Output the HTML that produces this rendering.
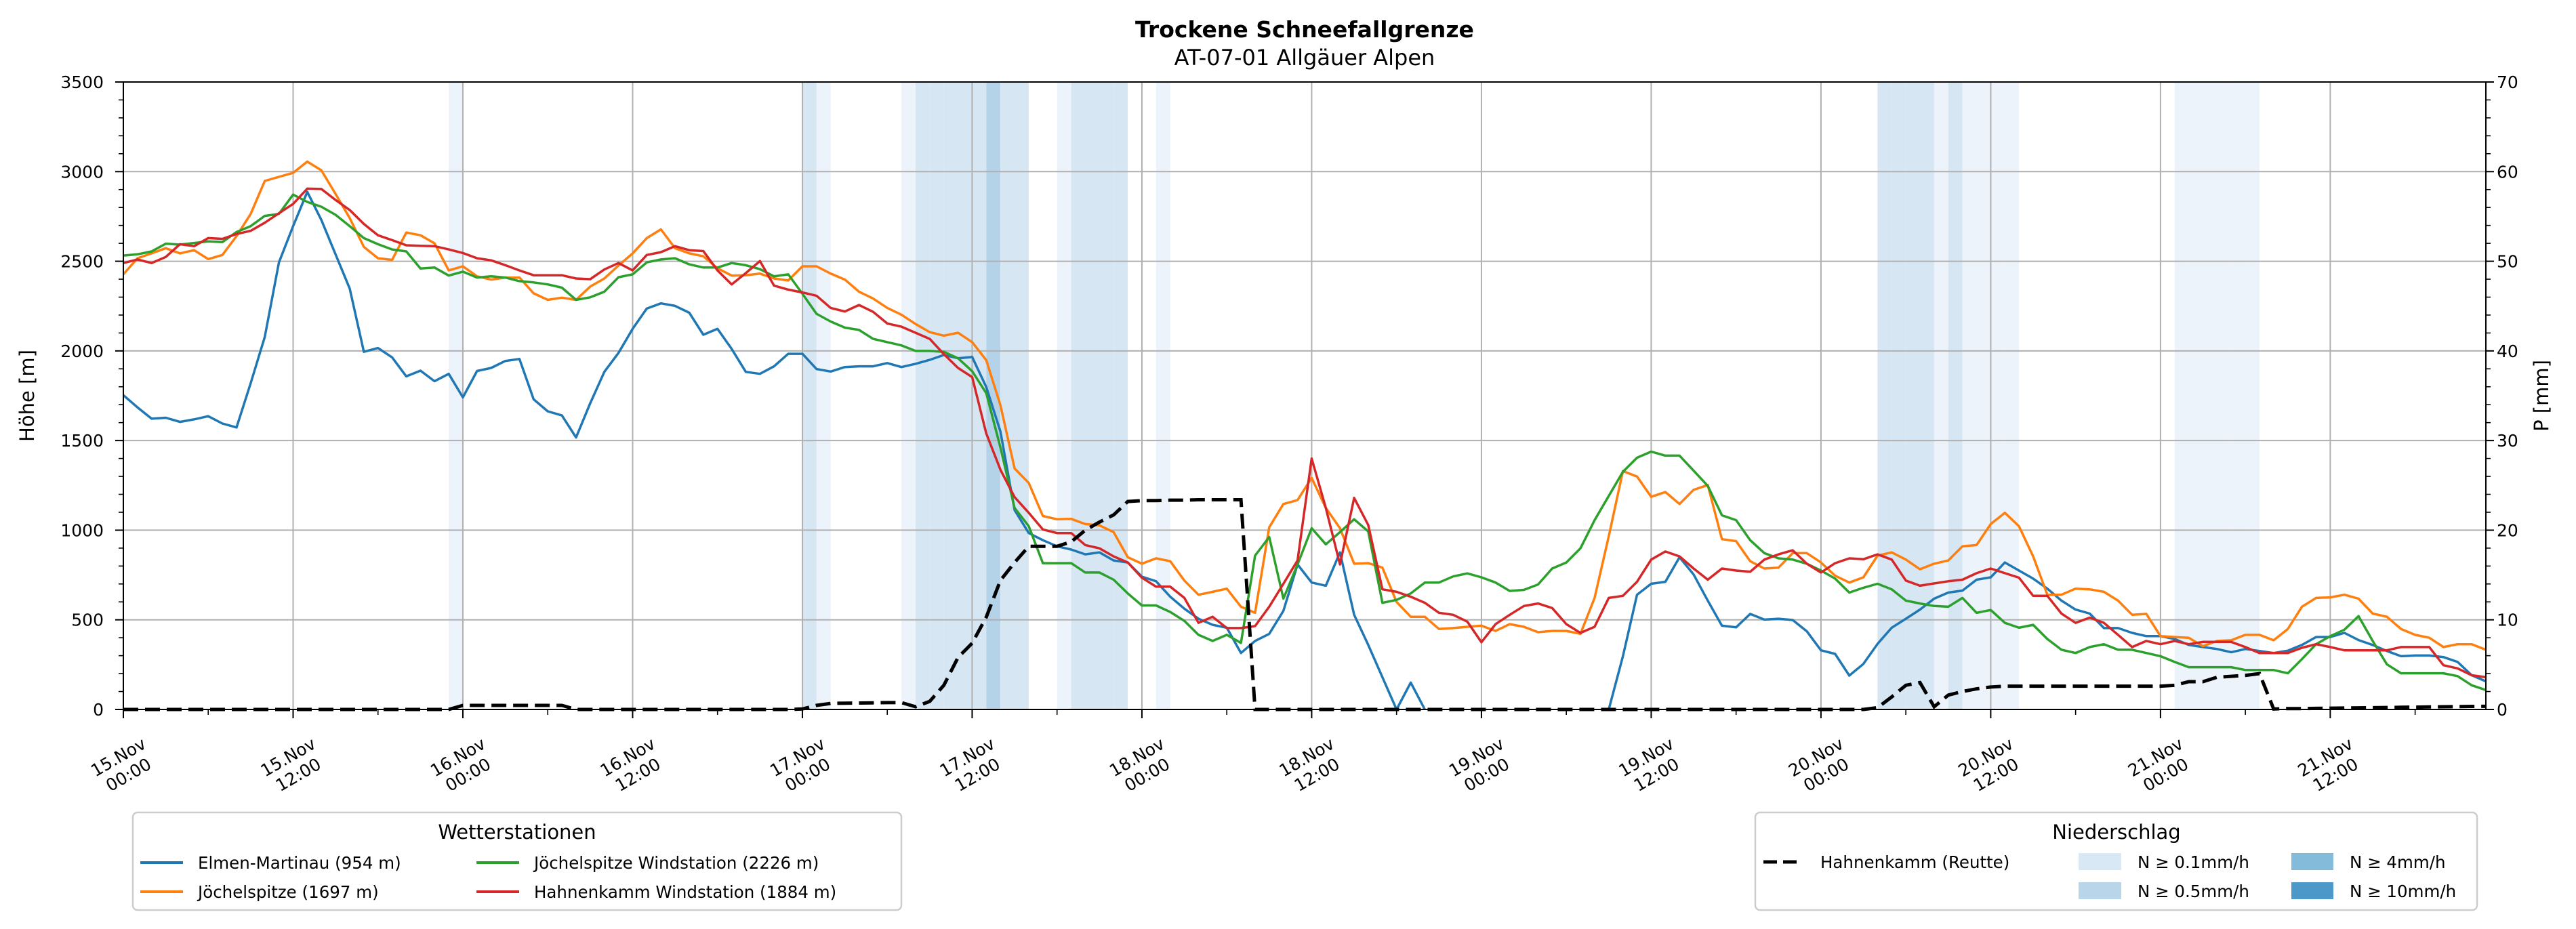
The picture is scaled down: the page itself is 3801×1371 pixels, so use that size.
<!DOCTYPE html>
<html><head><meta charset="utf-8"><style>
html,body{margin:0;padding:0;background:#fff;}
svg{display:block;font-family:"DejaVu Sans","Liberation Sans",sans-serif;}
</style></head><body>
<svg id="chart" xmlns="http://www.w3.org/2000/svg" width="3801" height="1371" viewBox="0 0 3801 1371">
<rect x="0" y="0" width="3801" height="1371" fill="#fff"/>
<text x="1925" y="55" text-anchor="middle" font-size="33" font-weight="bold">Trockene Schneefallgrenze</text>
<text x="1925" y="96" text-anchor="middle" font-size="32">AT-07-01 Allgäuer Alpen</text>
<g id="bands"></g>
<g id="grid"></g>
<defs><clipPath id="pc"><rect x="182" y="121" width="3486" height="929"/></clipPath></defs>
<g id="series" clip-path="url(#pc)"></g>
<rect x="182" y="121" width="3486" height="926" fill="none" stroke="#000" stroke-width="2"/>
<g id="axes"></g>
<text transform="translate(50,584) rotate(-90)" text-anchor="middle" font-size="29">Höhe [m]</text>
<text transform="translate(3760,584) rotate(-90)" text-anchor="middle" font-size="29">P [mm]</text>

<g>
<rect x="196" y="1199" width="1134" height="144" rx="7" fill="#fff" stroke="#cccccc" stroke-width="2.5"/>
<text x="763" y="1238" text-anchor="middle" font-size="29">Wetterstationen</text>
<line x1="207" y1="1273" x2="270" y2="1273" stroke="#1f77b4" stroke-width="4"/>
<text x="292" y="1282" font-size="24.5">Elmen-Martinau (954 m)</text>
<line x1="207" y1="1316" x2="270" y2="1316" stroke="#ff7f0e" stroke-width="4"/>
<text x="292" y="1325" font-size="24.5">Jöchelspitze (1697 m)</text>
<line x1="703" y1="1273" x2="766" y2="1273" stroke="#2ca02c" stroke-width="4"/>
<text x="788" y="1282" font-size="24.5">Jöchelspitze Windstation (2226 m)</text>
<line x1="703" y1="1316" x2="766" y2="1316" stroke="#d62728" stroke-width="4"/>
<text x="788" y="1325" font-size="24.5">Hahnenkamm Windstation (1884 m)</text>
</g>

<g>
<rect x="2590" y="1199" width="1065" height="144" rx="7" fill="#fff" stroke="#cccccc" stroke-width="2.5"/>
<text x="3123" y="1238" text-anchor="middle" font-size="29">Niederschlag</text>
<line x1="2602" y1="1272" x2="2658" y2="1272" stroke="#000" stroke-width="5" stroke-dasharray="20,9"/>
<text x="2686" y="1281" font-size="24.5">Hahnenkamm (Reutte)</text>
<rect x="3067" y="1259" width="63" height="25" fill="#d9e8f5"/>
<text x="3154" y="1281" font-size="24.5">N ≥ 0.1mm/h</text>
<rect x="3067" y="1302" width="63" height="25" fill="#b8d5ea"/>
<text x="3154" y="1324" font-size="24.5">N ≥ 0.5mm/h</text>
<rect x="3381" y="1259" width="62" height="25" fill="#84bbdb"/>
<text x="3467" y="1281" font-size="24.5">N ≥ 4mm/h</text>
<rect x="3381" y="1302" width="62" height="25" fill="#4b98c9"/>
<text x="3467" y="1324" font-size="24.5">N ≥ 10mm/h</text>
</g>
</svg>
<script>
const elmen = [1753,1685,1622,1627,1604,1618,1636,1595,1573,1820,2078,2494,2696,2887,2730,2539,2348,1995,2016,1964,1858,1890,1831,1872,1741,1888,1905,1944,1955,1730,1663,1640,1517,1708,1883,1989,2123,2236,2265,2251,2213,2090,2123,2011,1883,1872,1914,1984,1984,1899,1885,1910,1914,1914,1932,1910,1928,1950,1977,1959,1966,1798,1550,1112,984,944,910,892,865,876,831,820,741,715,629,562,506,472,456,315,382,422,550,809,708,690,876,528,360,180,0,150,0,null,null,null,null,null,null,null,null,null,null,null,null,0,297,640,701,712,849,753,607,467,458,533,501,506,499,436,330,310,189,254,366,456,506,557,618,652,663,724,737,820,775,730,674,607,557,535,454,454,427,409,409,393,360,348,337,319,337,326,315,328,360,404,404,427,387,360,326,297,301,301,292,265,191,157];
const joechel = [2427,2517,2544,2573,2544,2562,2512,2535,2640,2764,2948,2971,2993,3056,3007,2876,2741,2580,2517,2508,2660,2645,2600,2449,2472,2416,2398,2409,2409,2321,2285,2297,2285,2359,2404,2476,2544,2629,2678,2573,2544,2528,2461,2420,2422,2431,2404,2393,2472,2472,2431,2398,2330,2292,2240,2202,2150,2105,2085,2101,2049,1948,1697,1344,1263,1079,1061,1063,1034,1027,989,849,813,843,827,719,640,656,674,573,539,1016,1146,1168,1292,1124,1011,813,816,791,600,517,517,449,454,461,467,438,476,461,431,438,438,422,622,966,1330,1299,1186,1213,1146,1225,1252,950,939,827,786,791,872,872,820,746,708,737,858,876,836,782,813,831,910,917,1034,1097,1022,854,640,640,674,670,656,607,528,533,409,404,400,353,382,386,416,416,386,449,573,622,625,640,618,535,517,449,416,400,348,364,364,333];
const joechelWind = [2532,2539,2555,2598,2593,2602,2611,2607,2663,2696,2753,2764,2872,2831,2804,2759,2696,2629,2595,2566,2555,2460,2465,2420,2442,2409,2416,2409,2389,2382,2371,2353,2285,2299,2330,2411,2427,2494,2510,2517,2483,2465,2465,2490,2478,2456,2416,2427,2319,2207,2164,2130,2117,2067,2049,2031,2000,2000,1995,1959,1887,1764,1461,1124,1022,816,816,816,764,764,724,647,580,580,544,494,416,382,416,371,858,962,618,809,1011,921,989,1061,993,595,611,647,708,708,742,759,737,708,661,667,697,786,820,899,1056,1191,1326,1404,1438,1416,1416,1332,1247,1083,1056,944,872,843,836,813,775,730,652,679,701,670,607,591,577,573,622,539,555,483,456,472,393,333,315,348,364,333,333,315,297,265,236,236,236,236,220,220,220,202,281,364,409,445,521,382,252,202,202,202,202,186,135,108];
const hahnenWind = [2490,2510,2490,2524,2595,2584,2629,2625,2652,2670,2715,2768,2820,2905,2903,2842,2786,2708,2645,2618,2589,2586,2584,2566,2546,2517,2505,2478,2449,2422,2422,2422,2404,2400,2454,2490,2449,2535,2551,2584,2562,2557,2449,2371,2434,2501,2364,2342,2326,2308,2240,2220,2256,2218,2153,2135,2101,2067,1982,1905,1854,1539,1337,1184,1097,1004,984,984,917,899,854,820,735,685,685,622,483,517,454,454,465,573,701,831,1400,1124,809,1180,1029,670,656,629,595,539,528,490,375,476,528,577,591,566,476,427,461,622,634,712,836,881,854,786,724,786,775,768,836,865,888,813,764,816,843,838,865,836,719,690,703,715,724,760,786,760,735,634,634,535,483,512,483,416,348,382,364,382,364,377,377,377,348,315,315,315,344,364,348,330,330,330,330,348,348,348,247,229,191,180];
const precipReutte = [
0,0,0,0,0,0,0,0,0,0, 0,0,0,0,0,0,0,0,0,0, 0,0,0,0,
0.45,0.45,0.45,0.45,0.45,0.45,0.45,0.45,
0,0,0,0,0,0,0,0,0,0,0,0,0,0,0,0,
0.05,0.45,0.67,0.7,0.72,0.74,0.76,0.76,
0.3,0.9,2.7,5.8,7.4,10.3,14.4,16.4,
18.2,18.2,18.2,18.7,20.0,20.9,21.7,23.2,
23.3,23.3,23.35,23.35,23.4,23.4,23.4,23.4,
0,0,0,0,0,0,0,0,0,0, 0,0,0,0,0,0,0,0,0,0, 0,0,0,0,0,0,0,0,0,0, 0,0,0,0,0,0,0,0,0,0, 0,0,0,0,
0.2,1.4,2.7,3.0,0.3,1.6,2.0,2.3,2.5,2.6,
2.6,2.6,2.6,2.6,2.6,2.6,2.6,2.6,2.6,2.6,
2.6,2.7,3.1,3.1,3.6,3.7,3.8,4.0,
0.05,0.1,0.1,0.12,0.14,0.16,0.18,0.2,0.22,0.24,0.26,0.28,0.3,0.32,0.34,0.35];
const bandHours = [23,48,49,55,56,57,58,59,60,61,62,63,66,67,68,69,70,73,124,125,126,127,128,129,130,131,132,133,145,146,147,148,149,150];
const bandLevels = [1,2,1,1,2,2,2,2,2,3,2,2,1,2,2,2,2,1,2,2,2,2,1,2,1,1,1,1,1,1,1,1,1,1];
const yTicks = [0,500,1000,1500,2000,2500,3000,3500];
const y2Ticks = [0,10,20,30,40,50,60,70];
const xTickHours = [0,12,24,36,48,60,72,84,96,108,120,132,144,156];
const xTickDays = ["15.Nov","15.Nov","16.Nov","16.Nov","17.Nov","17.Nov","18.Nov","18.Nov","19.Nov","19.Nov","20.Nov","20.Nov","21.Nov","21.Nov"];
const xTickTimes = ["00:00","12:00","00:00","12:00","00:00","12:00","00:00","12:00","00:00","12:00","00:00","12:00","00:00","12:00"];

const NS = "http://www.w3.org/2000/svg";
const L = 182, R = 3668, T = 121, B = 1047, HMAX = 167;
const X = h => L + h * (R - L) / HMAX;
const Y = v => B - v * (B - T) / 3500;
const Y2 = p => B - p * (B - T) / 70;
function mk(tag, attrs, parent) {
  const e = document.createElementNS(NS, tag);
  for (const k in attrs) e.setAttribute(k, attrs[k]);
  parent.appendChild(e);
  return e;
}
const bandColors = {1: "#edf3fa", 2: "#d6e6f3", 3: "#b4d3e8"};
const gB = document.getElementById("bands");
bandHours.forEach((h, i) => {
  const r = mk("rect", {x: X(h), y: T, width: X(h + 1) - X(h), height: B - T, fill: bandColors[bandLevels[i]]}, gB);
  
  
});
const gG = document.getElementById("grid");
xTickHours.forEach(h => {
  const l = mk("line", {x1: X(h), x2: X(h), y1: T, y2: B, stroke: "#b0b0b0", "stroke-width": 2}, gG);
  
  
});
yTicks.forEach(v => {
  const l = mk("line", {x1: L, x2: R, y1: Y(v), y2: Y(v), stroke: "#b0b0b0", "stroke-width": 2}, gG);
  
  
});
const gS = document.getElementById("series");
function pathFor(arr, yf) {
  let d = "", pen = false;
  arr.forEach((v, h) => {
    if (v === null) { pen = false; return; }
    d += (pen ? "L" : "M") + X(h).toFixed(1) + "," + yf(v).toFixed(1);
    pen = true;
  });
  return d;
}
const series = [[elmen, "#1f77b4", "series-elmen"], [joechel, "#ff7f0e", "series-joechelspitze"], [joechelWind, "#2ca02c", "series-joechelspitze-wind"], [hahnenWind, "#d62728", "series-hahnenkamm-wind"]];
series.forEach(s => {
  const p = mk("path", {d: pathFor(s[0], Y), fill: "none", stroke: s[1], "stroke-width": 3.5, "stroke-linejoin": "round"}, gS);
  
  
});
const pp = mk("path", {d: pathFor(precipReutte, Y2), fill: "none", stroke: "#000", "stroke-width": 5, "stroke-dasharray": "22,10"}, gS);



const gA = document.getElementById("axes");
yTicks.forEach(v => {
  const t = mk("line", {x1: L - 12, x2: L, y1: Y(v), y2: Y(v), stroke: "#000", "stroke-width": 2}, gA);
  
  
  const tx = mk("text", {x: 153, y: Y(v) + 9, "text-anchor": "end", "font-size": 25}, gA);
  tx.textContent = v;
  
  
});
for (let v = 0; v <= 3500; v += 100) {
  if (v % 500 === 0) continue;
  const t = mk("line", {x1: L - 7, x2: L, y1: Y(v), y2: Y(v), stroke: "#000", "stroke-width": 1.6}, gA);
  
  
}
y2Ticks.forEach(p => {
  const t = mk("line", {x1: R, x2: R + 12, y1: Y2(p), y2: Y2(p), stroke: "#000", "stroke-width": 2}, gA);
  
  
  const tx = mk("text", {x: 3684, y: Y2(p) + 9, "text-anchor": "start", "font-size": 25}, gA);
  tx.textContent = p;
  
  
});
for (let p = 0; p <= 70; p += 2) {
  if (p % 10 === 0) continue;
  const t = mk("line", {x1: R, x2: R + 7, y1: Y2(p), y2: Y2(p), stroke: "#000", "stroke-width": 1.6}, gA);
  
  
}
xTickHours.forEach((h, i) => {
  const t = mk("line", {x1: X(h), x2: X(h), y1: B, y2: B + 13, stroke: "#000", "stroke-width": 2}, gA);
  
  
  const m = mk("line", {x1: X(h + 6), x2: X(h + 6), y1: B, y2: B + 8, stroke: "#000", "stroke-width": 1.6}, gA);
  
  
  const g = mk("g", {transform: "translate(" + X(h).toFixed(1) + ",1130) rotate(-30)"}, gA);
  
  
  const a = mk("text", {x: 0, y: -6, "text-anchor": "middle", "font-size": 25}, g);
  a.textContent = xTickDays[i];
  
  
  const b = mk("text", {x: 0, y: 24, "text-anchor": "middle", "font-size": 25}, g);
  b.textContent = xTickTimes[i];
  
  
});
</script>
</body></html>
